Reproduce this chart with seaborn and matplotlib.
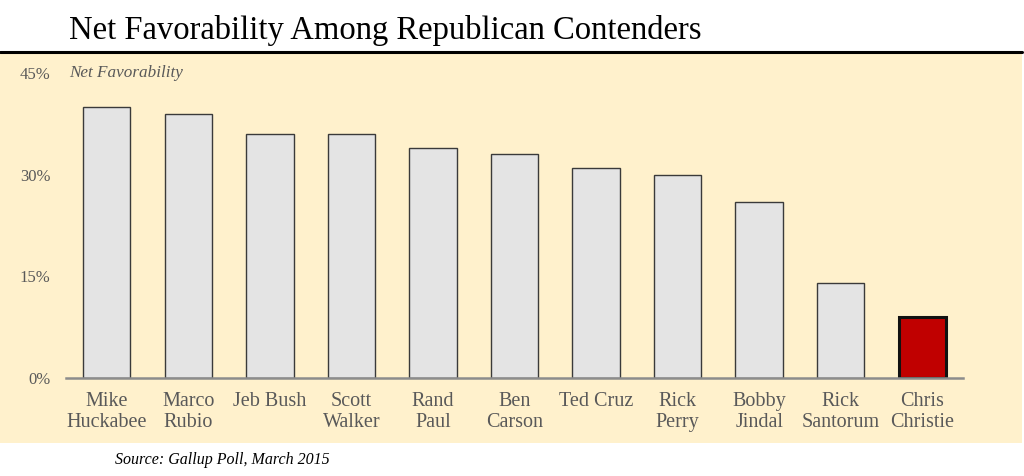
import matplotlib as mpl
import matplotlib.pyplot as plt
import pandas as pd
import seaborn as sns

candidates = [
    "Mike\nHuckabee", "Marco\nRubio", "Jeb Bush", "Scott\nWalker", "Rand\nPaul",
    "Ben\nCarson", "Ted Cruz", "Rick\nPerry", "Bobby\nJindal", "Rick\nSantorum",
    "Chris\nChristie",
]
net_favorability = [40, 39, 36, 36, 34, 33, 31, 30, 26, 14, 9]
highlight = "Chris\nChristie"
y_ticks = [0, 15, 30, 45]

PANEL = "#fff1cc"
GRAY_TEXT = "#595959"
SERIF = ["Liberation Serif", "DejaVu Serif"]

sns.set_style("white")
plt.rcParams["font.family"] = SERIF

df = pd.DataFrame({"name": candidates, "value": net_favorability})
colors = ["#c00000" if n == highlight else "#e4e4e4" for n in candidates]

fig = plt.figure(figsize=(10.24, 4.76), dpi=100)
fig.patch.set_facecolor("white")

# yellow panel and rule under the title
fig.patches.append(mpl.patches.Rectangle(
    (0, 33 / 476), 1022 / 1024, (443 - 52) / 476,
    transform=fig.transFigure, facecolor=PANEL, edgecolor="none", zorder=-5))
fig.add_artist(mpl.lines.Line2D([0, 1022 / 1024], [1 - 52 / 476] * 2,
                                transform=fig.transFigure, color="black", lw=2.2))

ax = fig.add_axes([66 / 1024, 1 - 378 / 476, (963 - 66) / 1024, (378 - 73) / 476])
ax.set_facecolor("none")

sns.barplot(data=df, x="name", y="value", hue="name", palette=colors,
            saturation=1, legend=False, width=0.58, ax=ax, zorder=3)
for patch, name in zip(ax.patches, candidates):
    if name == highlight:
        patch.set_edgecolor("#111111")
        patch.set_linewidth(2.2)
    else:
        patch.set_edgecolor("#3a3a3a")
        patch.set_linewidth(1.0)

ax.set_xlim(-0.5, len(candidates) - 0.5)
ax.set_ylim(0, 45)
ax.set_yticks(y_ticks)
ax.set_yticklabels([f"{t}%" for t in y_ticks])
ax.set_xlabel("")
ax.set_ylabel("")
for side in ["top", "right", "left"]:
    ax.spines[side].set_visible(False)
ax.spines["bottom"].set_color("#8c8c8c")
ax.spines["bottom"].set_linewidth(1.8)
ax.spines["bottom"].set_zorder(4)
ax.tick_params(axis="y", length=0, pad=11, labelsize=12, labelcolor=GRAY_TEXT)
ax.tick_params(axis="x", length=0, pad=10, labelsize=14.5, labelcolor=GRAY_TEXT)
for lbl in ax.get_xticklabels():
    lbl.set_linespacing(1.15)

ax.text(0.004, 45, "Net Favorability", transform=ax.get_yaxis_transform(),
        ha="left", va="center", fontsize=12.3, style="italic", color=GRAY_TEXT)

fig.text(69 / 1024, 1 - 31 / 476, "Net Favorability Among Republican Contenders",
         ha="left", va="center", fontsize=23.5, color="black")
fig.text(115 / 1024, 1 - 460 / 476, "Source: Gallup Poll, March 2015",
         ha="left", va="center", fontsize=11.5, style="italic", color="black")

fig.savefig("out.png", dpi=100)
